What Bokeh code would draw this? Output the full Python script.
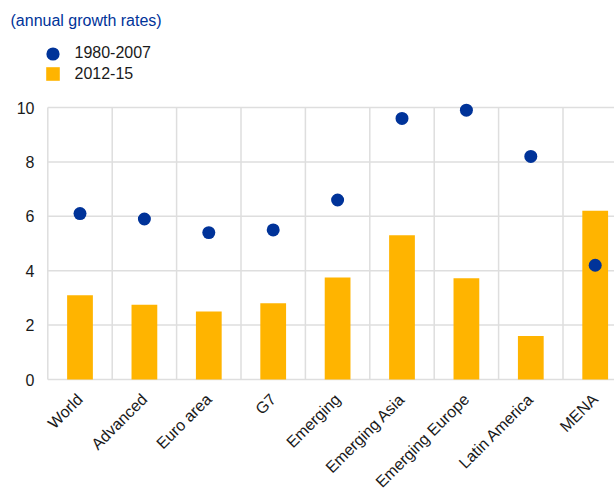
import math
from bokeh.plotting import figure
from bokeh.models import (Range1d, FixedTicker, Legend, LegendItem,
                          ColumnDataSource)
from bokeh.embed import file_html
from bokeh.resources import INLINE

categories = ["World", "Advanced", "Euro area", "G7", "Emerging",
              "Emerging Asia", "Emerging Europe", "Latin America", "MENA"]
growth_1980_2007 = [6.1, 5.9, 5.4, 5.5, 6.6, 9.6, 9.9, 8.2, 4.2]
growth_2012_15 = [3.1, 2.75, 2.5, 2.8, 3.75, 5.3, 3.72, 1.6, 6.2]
y_ticks = [0, 2, 4, 6, 8, 10]

BLUE = "#003399"
YELLOW = "#FFB400"
GRID = "#dedede"
TEXT = "#1a1a1a"
FONT = "Liberation Sans"

# layout (pixels)
W, H = 614, 490
FRAME_LEFT, FRAME_TOP, FRAME_BOTTOM = 35, 30, 490
PLOT_LEFT, PLOT_TOP, PLOT_BOTTOM, CAT_W = 47.3, 107, 379, 64.4
y_px = (PLOT_BOTTOM - PLOT_TOP) / 10.0
x_start = -0.5 - (PLOT_LEFT - FRAME_LEFT) / CAT_W
x_end = -0.5 + (W - PLOT_LEFT) / CAT_W
y_start = -(FRAME_BOTTOM - PLOT_BOTTOM) / y_px
y_end = (PLOT_BOTTOM - FRAME_TOP) / y_px

n = len(categories)
xs = list(range(n))
src = ColumnDataSource(dict(x=xs, a=growth_1980_2007, b=growth_2012_15))

p = figure(width=W, height=H, output_backend="svg", toolbar_location=None,
           x_range=Range1d(x_start, x_end), y_range=Range1d(y_start, y_end),
           min_border_left=FRAME_LEFT, min_border_right=0,
           min_border_top=FRAME_TOP, min_border_bottom=0)
p.outline_line_color = None
p.background_fill_color = "white"
p.border_fill_color = "white"
p.xgrid.visible = False
p.ygrid.visible = False

# grid drawn as segments so it stays inside the plotting area
bounds = [i - 0.5 for i in range(n + 1)]
p.segment(x0=bounds, x1=bounds, y0=[min(y_ticks)] * len(bounds),
          y1=[max(y_ticks)] * len(bounds), line_color=GRID, line_width=1.5,
          level="underlay")
p.segment(x0=[bounds[0]] * len(y_ticks), x1=[bounds[-1]] * len(y_ticks),
          y0=y_ticks, y1=y_ticks, line_color=GRID, line_width=1.5,
          level="underlay")

bars = p.vbar(x="x", top="b", width=0.4, source=src, fill_color=YELLOW,
              line_color=None)
dots = p.scatter(x="x", y="a", size=13, source=src, fill_color=BLUE,
                 line_color=None)

# title
p.title.text = "(annual growth rates)"
p.title.align = "left"
p.title.offset = 10 - FRAME_LEFT
p.title.standoff = 4
p.title.text_font = FONT
p.title.text_font_size = "16px"
p.title.text_font_style = "normal"
p.title.text_color = BLUE

# axes
p.yaxis.ticker = FixedTicker(ticks=y_ticks)
p.xaxis.ticker = FixedTicker(ticks=xs)
p.xaxis.major_label_overrides = {i: c for i, c in zip(xs, categories)}
p.xaxis.major_label_orientation = math.pi / 4
p.xaxis.fixed_location = 0
for ax in (p.xaxis[0], p.yaxis[0]):
    ax.axis_line_color = None
    ax.major_tick_line_color = None
    ax.minor_tick_line_color = None
    ax.major_tick_out = 0
    ax.major_tick_in = 0
    ax.major_label_text_font = FONT
    ax.major_label_text_color = TEXT
    ax.major_label_text_font_size = "16px"
p.yaxis.major_label_standoff = 1
p.xaxis.major_label_standoff = 17

# legends (one per item so each marker gets its own glyph box)
common = dict(label_standoff=6, padding=0, margin=0, border_line_color=None,
              background_fill_alpha=0, label_text_font=FONT,
              label_text_font_size="16px", label_text_color=TEXT)
leg1 = Legend(items=[LegendItem(label="1980-2007", renderers=[dots])],
              location=(35.5 - FRAME_LEFT, FRAME_BOTTOM - 69.5),
              glyph_width=33, glyph_height=33, label_height=33, **common)
common["label_standoff"] = 14
leg2 = Legend(items=[LegendItem(label="2012-15", renderers=[bars])],
              location=(43.5 - FRAME_LEFT, FRAME_BOTTOM - 82.5),
              glyph_width=17, glyph_height=17, label_height=17, **common)
p.add_layout(leg1)
p.add_layout(leg2)

open("out.html", "w").write(file_html(p, INLINE))
